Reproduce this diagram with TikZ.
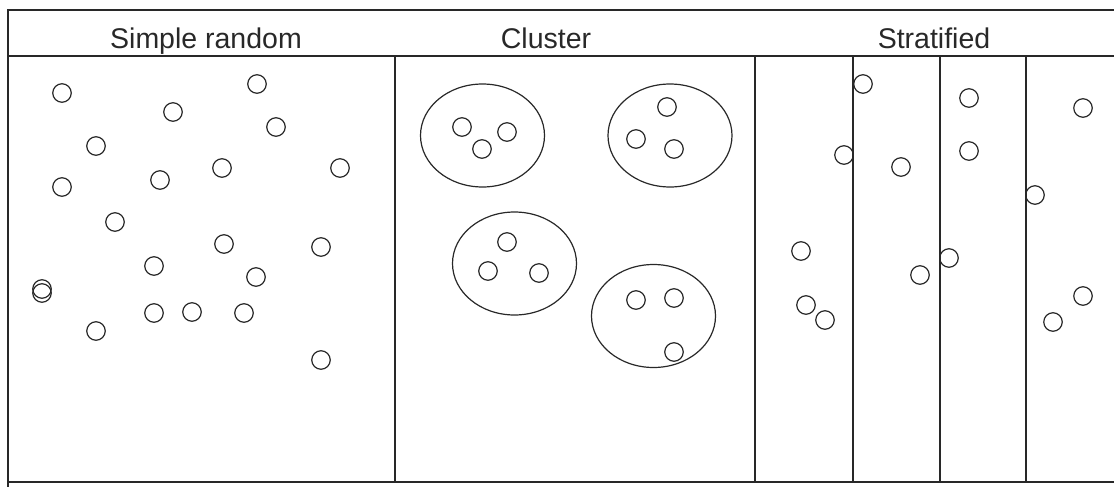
\documentclass[tikz,border=0pt]{standalone}
\usepackage{fontspec}
\setmainfont{Liberation Sans}
\usetikzlibrary{shapes.geometric}
\definecolor{ink}{RGB}{40,40,40}
\tikzset{
  frame/.style={draw=ink, line width=1.6pt},
  dot/.style={circle, draw=ink, line width=1.2pt, inner sep=0pt, minimum size=18.5pt},
  group/.style={ellipse, draw=ink, line width=1.2pt, inner sep=0pt, minimum width=124pt, minimum height=103pt},
  heading/.style={anchor=base, inner sep=0pt, text=ink, font=\fontsize{28.5pt}{31pt}\selectfont}
}
\begin{document}
\begin{tikzpicture}[x=1pt, y=-1pt]
\useasboundingbox (0,0) rectangle (1114,487);

% outer frame and header band
\draw[frame] (1114,10) -- (8,10) -- (8,487);
\draw[frame] (8,56) -- (1114,56);
\draw[frame] (8,482) -- (1114,482);

% panel dividers and strata boundaries
\foreach \xx in {395,755,853,940,1026}
  \draw[frame] (\xx,56) -- (\xx,482);

% headings
\node[heading] (hsr) at (206,49) {Simple random};
\node[heading] (hcl) at (546,49) {Cluster};
\node[heading] (hst) at (934,49) {Stratified};

% simple random sample
\foreach \px/\py [count=\i] in {62/93, 173/112, 257/84, 276/127, 96/146, 62/187, 160/180,
    222/168, 340/168, 115/222, 224/244, 321/247, 154/266, 256/277, 42/289, 42/293,
    96/331, 154/313, 192/312, 244/313, 321/360}
  \node[dot] (r\i) at (\px,\py) {};

% clusters
\node[group] (c1) at (482.5,135.5) {};
\node[group] (c2) at (670,135.5) {};
\node[group] (c3) at (514.5,263.5) {};
\node[group] (c4) at (653.5,316) {};
\foreach \px/\py [count=\i] in {462/127, 507/132, 482/149, 667/107, 636/139, 674/149,
    507/242, 488/271, 539/273, 636/300, 674/298, 674/352}
  \node[dot] (k\i) at (\px,\py) {};

% stratified sample
\foreach \px/\py [count=\i] in {863/84, 969/98, 1083/108, 844/155, 901/167, 969/151,
    1035/195, 801/251, 920/275, 949/258, 806/305, 825/320, 1083/296, 1053/322}
  \node[dot] (t\i) at (\px,\py) {};
\end{tikzpicture}
\end{document}
